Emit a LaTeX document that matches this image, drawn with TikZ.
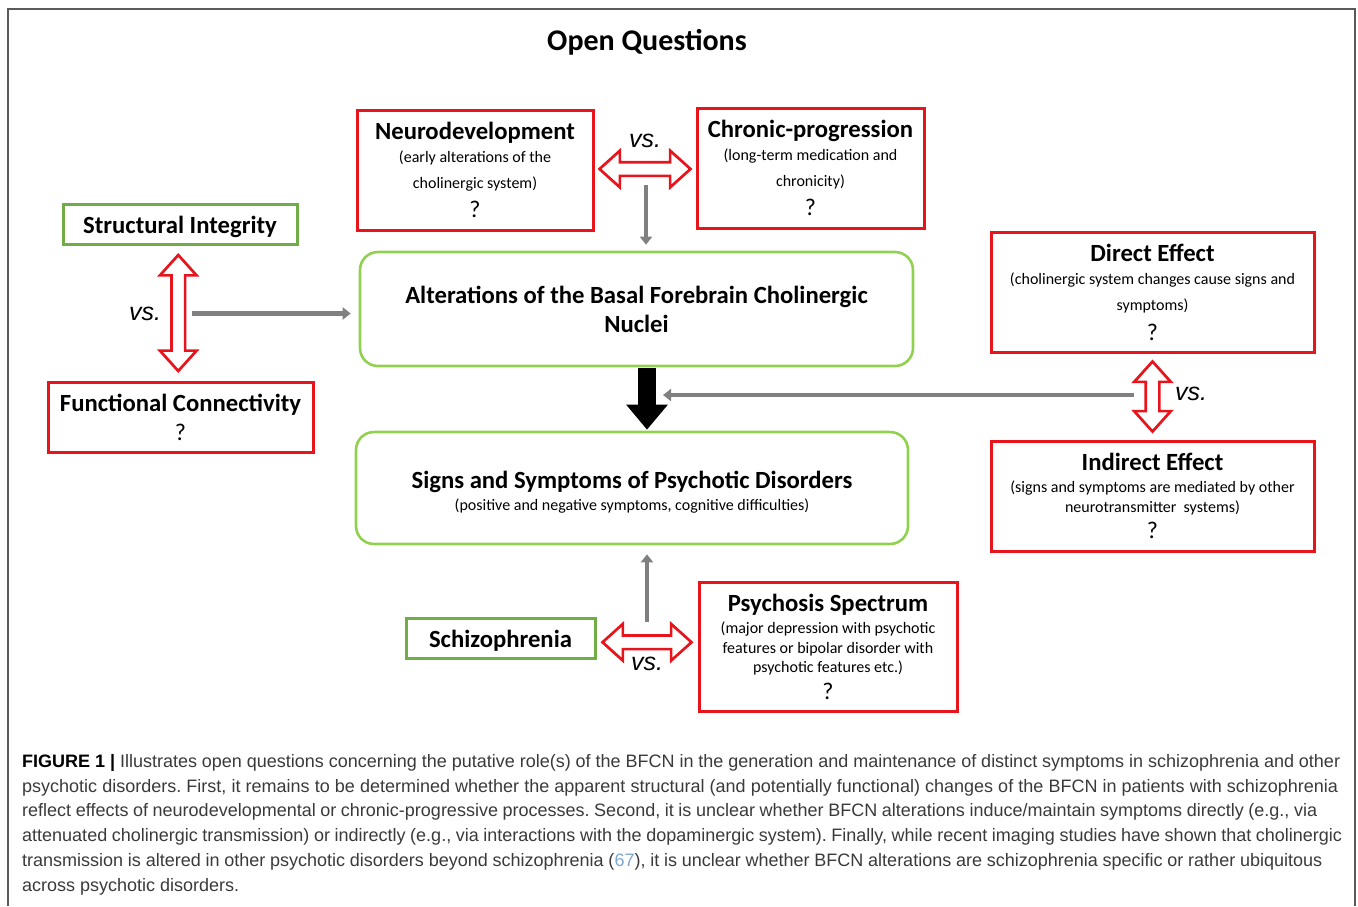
\documentclass[tikz,border=0pt]{standalone}
\usepackage{fontspec}
\setmainfont{Carlito}
\newfontfamily\capfont{Liberation Sans}
\newfontfamily\vsfont{Liberation Sans}
\usetikzlibrary{shapes.arrows,arrows.meta,calc}
\definecolor{boxred}{HTML}{E8141B}
\definecolor{boxgreen}{HTML}{70AD47}
\definecolor{roundgreen}{HTML}{92D050}
\definecolor{arrowgray}{HTML}{808080}
\definecolor{capgray}{HTML}{3A3A3A}
\definecolor{framegray}{HTML}{5A5A5A}
\definecolor{refblue}{HTML}{7FA6CF}
\newcommand\bxtitle{\fontsize{24.7}{26}\selectfont\bfseries}
\newcommand\bxq{\fontsize{24}{26}\selectfont}
\newcommand\bxsub[1]{\fontsize{16}{#1}\selectfont}
\newcommand\bxbig[1]{\fontsize{24.7}{#1}\selectfont\bfseries}
\newcommand\topstrut[1]{\rule{0pt}{#1}}
\newcommand\capfit[2]{\makebox[#1][s]{#2}}
\frenchspacing
\begin{document}
\begin{tikzpicture}[x=1pt,y=-1pt,
  redbox/.style={draw=boxred, line width=3pt, align=center, inner sep=0pt, fill=white},
  greenbox/.style={draw=boxgreen, line width=3pt, align=center, inner sep=0pt},
  roundbox/.style={draw=roundgreen, line width=2.6pt, rounded corners=18pt, align=center, inner sep=0pt},
  dblarrow/.style={double arrow, draw=boxred, fill=white, line width=2.7pt, inner xsep=0pt, inner ysep=5.5pt,
     text height=0pt, text depth=0pt, text width=0pt, double arrow head extend=11.5pt,
     double arrow tip angle=84, minimum height=#1},
  grayarrow/.style={draw=arrowgray, line width=4.5pt, -{Triangle[width=12pt,length=8pt]}},
  vslabel/.style={font=\vsfont\itshape\fontsize{25}{28}\selectfont},
  capline/.style={anchor=base west, inner sep=0pt, text=capgray, font=\capfont\fontsize{18}{20}\selectfont}
]
\useasboundingbox (0,0) rectangle (1358,906);
% frame
\draw[framegray, line width=2pt] (8,906) -- (8,9) -- (1355,9) -- (1355,906);

\node[font=\fontsize{30}{32}\selectfont\bfseries] (title) at (647,42) {Open Questions};

% boxes
\node[redbox, minimum width=236pt, minimum height=120pt, font=\bxsub{26}] (neuro) at (475,170)
  {{\bxtitle Neurodevelopment}\\[-2.5pt] (early alterations of the\\ cholinergic system)\\[3pt] {\bxq ?}};
\node[redbox, minimum width=227pt, minimum height=120pt, font=\bxsub{26}] (chronic) at (810.5,168)
  {{\bxtitle Chronic-progression}\\[-2.5pt] (long-term medication and\\ chronicity)\\[3pt] {\bxq ?}};
\node[greenbox, minimum width=234pt, minimum height=40pt] (struct) at (180,224)
  {{\bxtitle\topstrut{24pt}Structural Integrity}};
\node[redbox, minimum width=265pt, minimum height=70pt, font=\bxsub{29}] (funct) at (180.5,417)
  {{\bxtitle Functional Connectivity}\\ {\bxq ?}};
\node[roundbox, minimum width=553pt, minimum height=114pt, font=\bxbig{29}] (alter) at (636.5,309)
  {Alterations of the Basal Forebrain Cholinergic\\ Nuclei};
\node[redbox, minimum width=323pt, minimum height=120pt, font=\bxsub{26}] (direct) at (1152.5,292)
  {{\bxtitle Direct Effect}\\[-3pt] (cholinergic system changes cause signs and\\ symptoms)\\[4pt] {\bxq ?}};
\node[redbox, minimum width=323pt, minimum height=110pt, font=\bxsub{19.5}] (indirect) at (1152.5,496)
  {{\bxtitle Indirect Effect}\\[3pt] (signs and symptoms are mediated by other\\ neurotransmitter\ \ systems)\\[7pt] {\bxq ?}};
\node[roundbox, minimum width=552pt, minimum height=112pt, font=\bxsub{21}] (signs) at (632,488)
  {{\bxtitle\topstrut{25pt}Signs and Symptoms of Psychotic Disorders}\\[1pt] (positive and negative symptoms, cognitive difficulties)};
\node[greenbox, minimum width=189pt, minimum height=40pt] (schiz) at (500.5,638)
  {{\bxtitle\topstrut{22pt}Schizophrenia}};
\node[redbox, minimum width=258pt, minimum height=129pt, font=\bxsub{19.5}] (psych) at (828,646.5)
  {{\bxtitle Psychosis Spectrum}\\[3pt] (major depression with psychotic\\ features or bipolar disorder with\\ psychotic features etc.)\\[7pt] {\bxq ?}};

% double arrows (vs.)
\node[dblarrow=91pt] (topdbl) at ($(neuro.east)!0.5!(chronic.west)$) {};
\node[dblarrow=116pt, rotate=90] (leftdbl) at ($(struct.south)!0.5!(funct.north)+(-2,0)$) {};
\node[dblarrow=70pt, rotate=90] (rightdbl) at ($(direct.south)!0.5!(indirect.north)$) {};
\node[dblarrow=89pt] (botdbl) at ($(schiz.east)!0.5!(psych.west)$ |- schiz.east) {};

\node[vslabel] (vs1) at (645,141) {vs.};
\node[vslabel] (vs2) at (145,314) {vs.};
\node[vslabel] (vs3) at (1191,394) {vs.};
\node[vslabel] (vs4) at (647,664) {vs.};

% connectors
\coordinate (cx) at (647,0);
\coordinate (tgstart) at ($(topdbl.center)+(1,16)$);
\draw[grayarrow, shorten >=6pt] (tgstart) -- (tgstart |- alter.north);
\coordinate (lgstart) at ($(leftdbl.center)+(14,0.5)$);
\draw[grayarrow, shorten >=8pt] (lgstart) -- (lgstart -| alter.west);
\draw[line width=18pt, -{Triangle[width=40pt,length=25pt]}] ($(alter.south -| cx)+(0,1)$) -- ($(signs.north -| cx)+(0,-1)$);
\coordinate (rgstart) at ($(rightdbl.center)+(-19,-1.5)$);
\draw[grayarrow, shorten >=16pt] (rgstart) -- (rgstart -| cx);
\coordinate (bgstart) at ($(botdbl.center)+(0,-20)$);
\draw[grayarrow, shorten >=9pt] (bgstart) -- (bgstart |- signs.south);

% caption
\node[capline] (cap1) at (22,767) {\capfit{1318pt}{{\bfseries\color{black}FIGURE 1 |} Illustrates open questions concerning the putative role(s) of the BFCN in the generation and maintenance of distinct symptoms in schizophrenia and other}};
\node[capline] (cap2) at (22,792) {\capfit{1316pt}{psychotic disorders. First, it remains to be determined whether the apparent structural (and potentially functional) changes of the BFCN in patients with schizophrenia}};
\node[capline] (cap3) at (22,816) {\capfit{1295pt}{reflect effects of neurodevelopmental or chronic-progressive processes. Second, it is unclear whether BFCN alterations induce/maintain symptoms directly (e.g., via}};
\node[capline] (cap4) at (22,841) {\capfit{1320pt}{attenuated cholinergic transmission) or indirectly (e.g., via interactions with the dopaminergic system). Finally, while recent imaging studies have shown that cholinergic}};
\node[capline] (cap5) at (22,866) {\capfit{1300pt}{transmission is altered in other psychotic disorders beyond schizophrenia ({\color{refblue}67}), it is unclear whether BFCN alterations are schizophrenia specific or rather ubiquitous}};
\node[capline] (cap6) at (22,891) {across psychotic disorders.};
\end{tikzpicture}
\end{document}
